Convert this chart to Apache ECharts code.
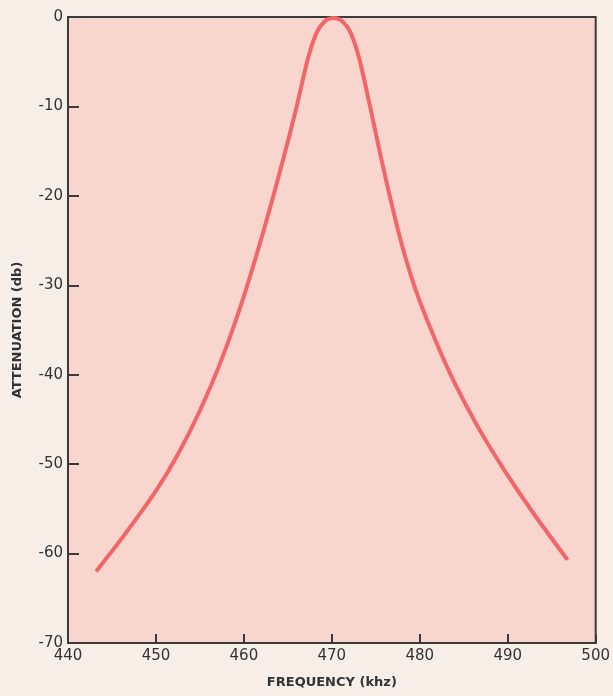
<!DOCTYPE html>
<html>
<head>
<meta charset="utf-8">
<script src="https://cdn.jsdelivr.net/npm/echarts@6/dist/echarts.min.js"></script>
<style>
html,body{margin:0;padding:0;background:#f7efe7;}
#c{width:613px;height:696px;}
</style>
</head>
<body>
<div id="c"></div>
<script>
const frequency = [443.2, 446.5, 450.0, 452.5, 455.0, 457.5, 460.0, 462.5, 464.5, 466.0, 467.3, 468.3, 469.3, 470.2, 471.1, 472.1, 473.1, 474.3, 475.5, 476.7, 478.0, 479.6, 481.8, 484.0, 486.7, 489.7, 493.0, 496.8];
const attenuation = [-62.0, -57.8, -53.0, -48.9, -44.0, -38.2, -31.2, -23.0, -15.8, -10.0, -4.6, -1.7, -0.4, -0.1, -0.4, -1.7, -4.6, -9.8, -15.3, -20.5, -25.6, -30.7, -36.2, -41.0, -46.0, -50.8, -55.6, -60.7];
const xTicks = [440, 450, 460, 470, 480, 490, 500];
const yTicks = [0, -10, -20, -30, -40, -50, -60, -70];
const xTitle = 'FREQUENCY (khz)';
const yTitle = 'ATTENUATION (db)';

const points = frequency.map((f, i) => [f, attenuation[i]]);
const chart = echarts.init(document.getElementById('c'));
const fontFam = 'DejaVu Sans, sans-serif';
chart.setOption({
  backgroundColor: '#f7efe7',
  animation: false,
  grid: {
    left: 68, right: 11, top: 17, bottom: 53,
    show: true,
    backgroundColor: '#f9d6cd',
    borderColor: '#3a3a3a',
    borderWidth: 2
  },
  xAxis: {
    type: 'value',
    min: xTicks[0], max: xTicks[xTicks.length - 1], interval: 10,
    name: xTitle,
    nameLocation: 'middle',
    nameGap: 33,
    nameTextStyle: { fontFamily: fontFam, fontSize: 13, color: '#333', fontWeight: 'bold' },
    axisLine: { show: true, onZero: false, lineStyle: { color: '#3a3a3a', width: 2 } },
    axisTick: { show: true, inside: true, length: 9, lineStyle: { color: '#3a3a3a', width: 2 } },
    axisLabel: { fontFamily: fontFam, fontSize: 15, color: '#333', margin: 6 },
    splitLine: { show: false }
  },
  yAxis: {
    type: 'value',
    min: yTicks[yTicks.length - 1], max: yTicks[0], interval: 10,
    name: yTitle,
    nameLocation: 'middle',
    nameGap: 44,
    nameRotate: 90,
    nameTextStyle: { fontFamily: fontFam, fontSize: 13, color: '#333', fontWeight: 'bold' },
    axisLine: { show: true, onZero: false, lineStyle: { color: '#3a3a3a', width: 2 } },
    axisTick: { show: true, inside: true, length: 11, lineStyle: { color: '#3a3a3a', width: 2 } },
    axisLabel: { fontFamily: fontFam, fontSize: 15, color: '#333', margin: 5 },
    splitLine: { show: false }
  },
  series: [{
    type: 'line',
    data: points,
    smooth: 0.3,
    showSymbol: false,
    lineStyle: { color: '#f2666a', width: 4 }
  }]
});
</script>
</body>
</html>
